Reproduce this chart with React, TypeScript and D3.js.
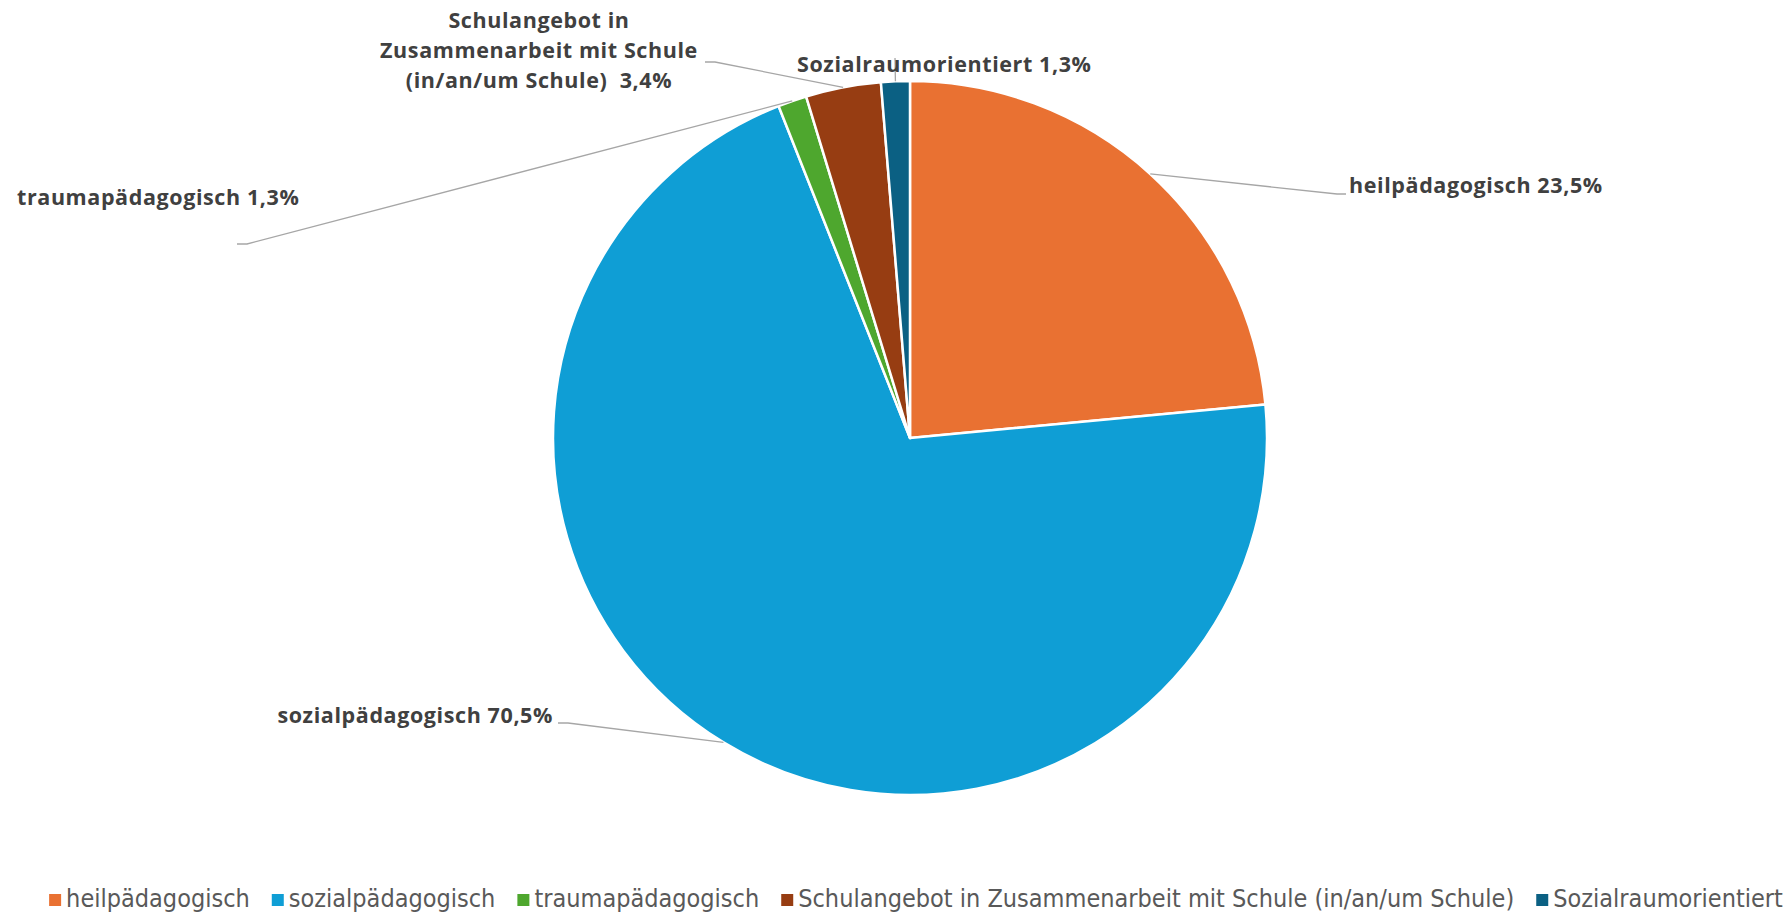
import React, { useEffect, useRef } from 'react';
import * as d3 from 'd3';

const categories = [
  'heilpädagogisch',
  'sozialpädagogisch',
  'traumapädagogisch',
  'Schulangebot in Zusammenarbeit mit Schule (in/an/um Schule)',
  'Sozialraumorientiert',
];
const shares = [23.5, 70.5, 1.3, 3.4, 1.3];
const valueLabels = ['23,5%', '70,5%', '1,3%', '3,4%', '1,3%'];
const colors = ['#E97132', '#0F9ED5', '#4EA72E', '#973D12', '#0B6083'];

// where Excel put the data labels (lines of text, anchor, elbow of leader line)
const labelLayout = [
  { lines: ['heilpädagogisch 23,5%'], x: 1349, y: 193, anchor: 'start', elbow: [1337, 194], end: [1346, 194] },
  { lines: ['sozialpädagogisch 70,5%'], x: 553, y: 723, anchor: 'end', elbow: [568, 723], end: [558, 723] },
  { lines: ['traumapädagogisch 1,3%'], x: 17, y: 205, anchor: 'start', elbow: [247, 244], end: [237, 244] },
  { lines: ['Schulangebot in', 'Zusammenarbeit mit Schule', '(in/an/um Schule)  3,4%'], x: 539, y: 28, anchor: 'middle', elbow: [715, 62], end: [705, 62] },
  { lines: ['Sozialraumorientiert 1,3%'], x: 797, y: 72, anchor: 'start', elbow: [895, 58], end: [895, 58] },
];

const App = () => {
  const svgRef = useRef(null);

  useEffect(() => {
    const svg = d3.select(svgRef.current);
    const cx = 910;
    const cy = 438;
    const radius = 357;
    const legendCenter = 916;

    svg.selectAll('*').remove();

    const data = categories.map((c, i) => ({ name: c, value: shares[i], label: valueLabels[i], color: colors[i], i }));
    const pie = d3.pie().value(d => d.value).sort(null);
    const arcs = pie(data);
    const arc = d3.arc().innerRadius(0).outerRadius(radius);

    const g = svg.append('g').attr('transform', `translate(${cx},${cy})`);
    g.selectAll('path.slice')
      .data(arcs)
      .enter()
      .append('path')
      .attr('class', 'slice')
      .attr('d', arc)
      .attr('fill', d => d.data.color)
      .attr('stroke', '#fff')
      .attr('stroke-width', 2.5)
      .attr('stroke-linejoin', 'round');

    // leader lines + data labels
    arcs.forEach((a, i) => {
      const lay = labelLayout[i];
      const mid = (a.startAngle + a.endAngle) / 2;
      const px = cx + radius * Math.sin(mid);
      const py = cy - radius * Math.cos(mid);
      svg
        .append('path')
        .attr('d', d3.line()([[px, py], lay.elbow, lay.end]))
        .attr('fill', 'none')
        .attr('stroke', '#A6A6A6')
        .attr('stroke-width', 1.3);

      const t = svg
        .append('text')
        .attr('x', lay.x)
        .attr('y', lay.y)
        .attr('text-anchor', lay.anchor)
        .style('font-family', '"Open Sans", "Noto Sans", sans-serif')
        .style('font-weight', 700)
        .style('font-size', '21.5px')
        .style('letter-spacing', '0.6px')
        .attr('fill', '#404040');
      lay.lines.forEach((ln, k) => {
        t.append('tspan')
          .attr('x', lay.x)
          .attr('dy', k === 0 ? 0 : 30)
          .style('white-space', 'pre')
          .text(ln);
      });
    });

    // legend, centred under the pie
    const legend = svg.append('g');
    let x = 0;
    data.forEach(d => {
      const item = legend.append('g').attr('transform', `translate(${x},0)`);
      item.append('rect').attr('x', 0).attr('y', -13).attr('width', 12).attr('height', 12).attr('fill', d.color);
      const txt = item
        .append('text')
        .attr('x', 17)
        .attr('y', 0)
        .style('font-family', '"Liberation Sans Narrow", "DejaVu Sans Condensed", "Roboto", sans-serif')
        .style('font-size', '25px')
        .attr('fill', '#595959')
        .text(d.name);
      x += 17 + txt.node().getComputedTextLength() + 22;
    });
    const total = x - 22;
    legend.attr('transform', `translate(${legendCenter - total / 2},907)`);
  }, []);

  return (
    <div className="chart-container">
      <svg ref={svgRef} width={1785} height={913} style={{ position: 'absolute', left: 0, top: 0, background: '#fff' }} />
    </div>
  );
};

export default App;
